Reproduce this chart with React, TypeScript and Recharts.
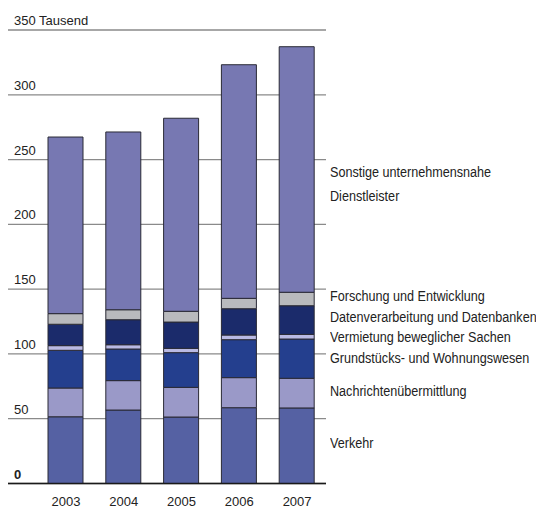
import { BarChart, Bar, XAxis, YAxis, CartesianGrid } from 'recharts';

const years = ['2003', '2004', '2005', '2006', '2007'];

// Werte in Tausend, von unten nach oben gestapelt
const verkehr = [51.5, 56.7, 51.3, 58.5, 58.3];
const nachrichten = [22.2, 22.7, 22.9, 23.2, 22.9];
const grundstuecke = [29.1, 24.4, 26.8, 29.3, 30.3];
const vermietung = [3.6, 3.3, 3.3, 3.6, 3.6];
const datenverarbeitung = [16.5, 19.3, 20.3, 20.3, 22.1];
const forschung = [8.2, 7.7, 8.3, 8.0, 10.4];
const sonstige = [136.3, 137.2, 149.0, 180.3, 189.5];

const yTicks = [0, 50, 100, 150, 200, 250, 300, 350];

const series = [
  { key: 'verkehr', values: verkehr, color: '#5561a3' },
  { key: 'nachrichten', values: nachrichten, color: '#9a99c8' },
  { key: 'grundstuecke', values: grundstuecke, color: '#243f8e' },
  { key: 'vermietung', values: vermietung, color: '#b9b9e3' },
  { key: 'datenverarbeitung', values: datenverarbeitung, color: '#1b2b6b' },
  { key: 'forschung', values: forschung, color: '#b9babd' },
  { key: 'sonstige', values: sonstige, color: '#7778b2' },
];

const legendLabels = [
  { text: 'Sonstige unternehmensnahe', top: 162 },
  { text: 'Dienstleister', top: 186 },
  { text: 'Forschung und Entwicklung', top: 286 },
  { text: 'Datenverarbeitung und Datenbanken', top: 307 },
  { text: 'Vermietung beweglicher Sachen', top: 327 },
  { text: 'Grundstücks- und Wohnungswesen', top: 348 },
  { text: 'Nachrichtenübermittlung', top: 381 },
  { text: 'Verkehr', top: 433 },
];

const FONT = '"Liberation Sans", Arial, sans-serif';

const data = years.map((year, i) => {
  const row: Record<string, string | number> = { year };
  series.forEach((s) => {
    row[s.key] = s.values[i];
  });
  return row;
});

function renderYTick(props: any) {
  const { y, payload } = props;
  const v = payload.value;
  const label = v === 350 ? '350 Tausend' : String(v);
  return (
    <text
      key={`yt-${v}`}
      x={6}
      y={y - 5}
      fill="#222"
      fontSize={13}
      fontFamily={FONT}
      fontWeight={v === 0 ? 700 : 400}
      textAnchor="start"
    >
      {label}
    </text>
  );
}

function renderXTick(props: any) {
  const { x, y, payload } = props;
  return (
    <text
      x={x}
      y={y + 14}
      fill="#222"
      fontSize={13}
      fontFamily={FONT}
      textAnchor="middle"
    >
      {payload.value}
    </text>
  );
}

export default function App() {
  return (
    <div style={{ position: 'relative', width: 536, height: 499 }}>
      <BarChart
        width={536}
        height={499}
        data={data}
        margin={{ top: 22, right: 218, bottom: 0, left: 0 }}
      >
        <CartesianGrid
          vertical={false}
          stroke="#8a8a8a"
          strokeWidth={1.3}
        />
        <XAxis
          dataKey="year"
          height={23.5}
          padding={{ left: 29, right: 0 }}
          tickLine={false}
          axisLine={{ stroke: '#1a1a1a', strokeWidth: 1.6 }}
          tick={renderXTick}
        />
        <YAxis
          width={1}
          mirror
          domain={[0, 350]}
          ticks={yTicks}
          interval={0}
          axisLine={false}
          tickLine={false}
          tick={renderYTick}
        />
        {series.map((s) => (
          <Bar
            key={s.key}
            dataKey={s.key}
            stackId="a"
            barSize={35}
            fill={s.color}
            stroke="#2a2a35"
            strokeWidth={1}
            isAnimationActive={false}
          />
        ))}
      </BarChart>
      {legendLabels.map((l) => (
        <div
          key={l.text}
          style={{
            position: 'absolute',
            left: 322,
            top: l.top - 8,
            fontFamily: FONT,
            fontSize: 14,
            color: '#222',
            whiteSpace: 'nowrap',
            lineHeight: '20px',
            transform: 'scaleX(0.9)',
            transformOrigin: 'left center',
          }}
        >
          {l.text}
        </div>
      ))}
    </div>
  );
}
